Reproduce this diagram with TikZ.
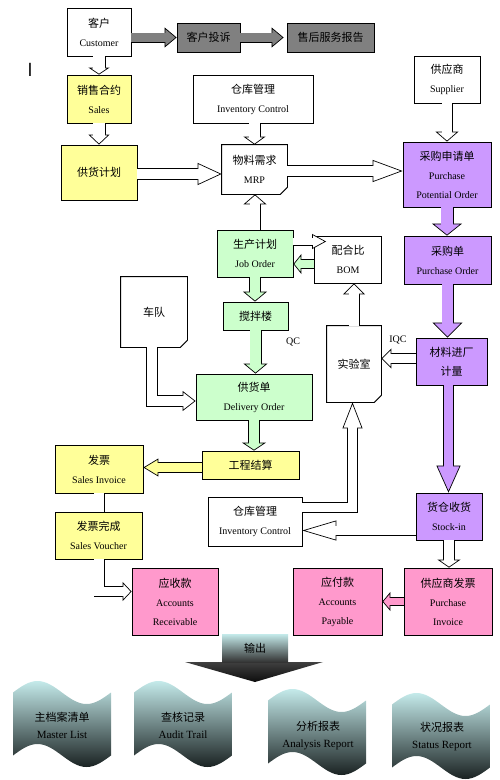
\documentclass[tikz,border=0pt]{standalone}
\usepackage{fontspec}
\setmainfont{Liberation Serif}
\newfontfamily\cjk{Noto Sans CJK SC}
\usetikzlibrary{arrows.meta}

\definecolor{boxyellow}{HTML}{FFFF99}
\definecolor{boxgreen}{HTML}{CCFFCC}
\definecolor{boxpurple}{HTML}{CC99FF}
\definecolor{boxpink}{HTML}{FF99CC}
\definecolor{boxgray}{HTML}{808080}
\definecolor{tapetop}{HTML}{C4EAEA}
\definecolor{tapemid}{HTML}{86A6A6}
\definecolor{tapebottom}{HTML}{1A2222}

\newcommand{\zhtext}[1]{{\cjk\fontsize{11}{19}\selectfont #1}}

% block arrow: [fill]{body width}{head width}{head length}{path}
\newcommand{\blockarrow}[5][white]{%
  \draw[line width=#2, -{Triangle[length=#4, width=#3, line width=0.7pt, fill=#1]}] #5;
  \draw[line width=#2-1.4pt, draw=#1, shorten >=#4-1pt] #5;
}
\newcommand{\blockbody}[3][white]{%
  \draw[line width=#2] #3;
  \draw[line width=#2-1.4pt, draw=#1] #3;
}
% document frame with folded corner
\newcommand{\docframe}[1]{%
  \draw[line width=0.8pt] (#1.north west) -- (#1.north east) -- ([yshift=7pt]#1.south east)
    -- ([xshift=-7pt]#1.south east) -- (#1.south west) -- cycle;
  \draw[line width=0.6pt, fill=black!12] ([yshift=7pt]#1.south east) -- ([xshift=-7pt]#1.south east)
    -- ([xshift=-5pt,yshift=2pt]#1.south east) -- cycle;
}
% wavy report shape round a coordinate
\newcommand{\tapeshape}[1]{%
  \shade[top color=tapetop, middle color=tapemid, bottom color=tapebottom, shift={(#1)}]
    (-49,-31.5) sin (-24.5,-43) cos (0,-31.5) sin (24.5,-20) cos (49,-31.5)
    -- (49,31.5) sin (24.5,43) cos (0,31.5) sin (-24.5,20) cos (-49,31.5) -- cycle;
}

\tikzset{
  box/.style={draw, line width=0.8pt, align=center, inner sep=0pt, font=\fontsize{10}{19}\selectfont},
  yellowbox/.style={box, fill=boxyellow},
  greenbox/.style={box, fill=boxgreen},
  purplebox/.style={box, fill=boxpurple},
  pinkbox/.style={box, fill=boxpink},
  graybox/.style={box, fill=boxgray},
  docbox/.style={box, draw=none, fill=white},
  tapetext/.style={align=center, inner sep=0pt, font=\fontsize{11}{17}\selectfont},
  tag/.style={inner sep=0pt, font=\fontsize{10}{12}\selectfont},
}

\begin{document}
\begin{tikzpicture}[x=1pt, y=-1pt]
\useasboundingbox (0,0) rectangle (500,780);

% customer row
\node[box, minimum width=64pt, minimum height=48pt] (customer) at (99,32) {\zhtext{客户}\\Customer};
\node[graybox, minimum width=63pt, minimum height=29pt] (complaint) at (208.5,37.5) {\zhtext{客户投诉}};
\node[graybox, minimum width=87pt, minimum height=29pt] (report) at (330.5,37.5) {\zhtext{售后服务报告}};
\node (cursor) at (30,70) {\fontsize{19}{19}\sffamily I};

% sales side
\node[yellowbox, minimum width=64pt, minimum height=48pt] (sales) at (99,99) {\zhtext{销售合约}\\Sales};
\node[yellowbox, minimum width=76pt, minimum height=55pt] (plan) at (99,172.5) {\zhtext{供货计划}};

% planning
\node[box, minimum width=120pt, minimum height=48pt] (inv1) at (253,99) {\zhtext{仓库管理}\\Inventory Control};
\node[docbox, minimum width=65pt, minimum height=49pt] (mrp) at (254.5,169.5) {\zhtext{物料需求}\\MRP};
\docframe{mrp}
\node[greenbox, minimum width=76pt, minimum height=47pt] (job) at (255,253.5) {\zhtext{生产计划}\\Job Order};
\node[box, minimum width=67pt, minimum height=47pt] (bom) at (348,259.5) {\zhtext{配合比}\\BOM};
\node[greenbox, minimum width=65pt, minimum height=28pt] (mixer) at (255.5,316) {\zhtext{搅拌楼}};
\node[docbox, minimum width=66pt, minimum height=70pt] (fleet) at (154,312) {\zhtext{车队}};
\docframe{fleet}
\node[greenbox, minimum width=116pt, minimum height=46pt] (delivery) at (254,397) {\zhtext{供货单}\\Delivery Order};
\node[docbox, minimum width=54pt, minimum height=76pt] (lab) at (354,364) {\zhtext{实验室}};
\docframe{lab}
\node[tag] (qc) at (293,342) {QC};
\node[tag] (iqc) at (398,340) {IQC};

% purchasing
\node[box, minimum width=66pt, minimum height=47pt] (supplier) at (447,79.5) {\zhtext{供应商}\\Supplier};
\node[purplebox, minimum width=88pt, minimum height=65pt] (ppo) at (447,174.5) {\zhtext{采购申请单}\\Purchase\\Potential Order};
\node[purplebox, minimum width=87pt, minimum height=48pt] (po) at (447.5,260) {\zhtext{采购单}\\Purchase Order};
\node[purplebox, minimum width=71pt, minimum height=47pt] (intake) at (451.5,361.5) {\zhtext{材料进厂}\\\zhtext{计量}};
\node[purplebox, minimum width=66pt, minimum height=47pt] (stockin) at (449,516.5) {\zhtext{货仓收货}\\Stock-in};

% billing
\node[yellowbox, minimum width=97pt, minimum height=28pt] (settle) at (250.5,465) {\zhtext{工程结算}};
\node[yellowbox, minimum width=88pt, minimum height=48pt] (invoice) at (99,469) {\zhtext{发票}\\Sales Invoice};
\node[yellowbox, minimum width=87pt, minimum height=47pt] (voucher) at (98.5,535.5) {\zhtext{发票完成}\\Sales Voucher};
\node[box, minimum width=94pt, minimum height=49pt] (inv2) at (255,521.5) {\zhtext{仓库管理}\\Inventory Control};
\node[pinkbox, minimum width=86pt, minimum height=67pt] (ar) at (175,601.5) {\zhtext{应收款}\\Accounts\\Receivable};
\node[pinkbox, minimum width=89pt, minimum height=67pt] (ap) at (337.5,601.5) {\zhtext{应付款}\\Accounts\\Payable};
\node[pinkbox, minimum width=88pt, minimum height=67pt] (pinvoice) at (448,601.5) {\zhtext{供应商发票}\\Purchase\\Invoice};

% output
\shade[top color=black!75, bottom color=black!95] (185,662) -- (323,662) -- (255,682) -- cycle;
\node[top color=tapetop, bottom color=black!80, minimum width=66pt, minimum height=28pt, inner sep=0pt] (output) at (255,648) {\zhtext{输出}};

% reports
\coordinate (mlc) at (62,724);
\coordinate (atc) at (183,724);
\coordinate (arc) at (317,732);
\coordinate (src) at (441,736);
\tapeshape{mlc}
\tapeshape{atc}
\tapeshape{arc}
\tapeshape{src}
\node[tapetext] (mlist) at (62,725) {\zhtext{主档案清单}\\Master List};
\node[tapetext] (audit) at (183,725) {\zhtext{查核记录}\\Audit Trail};
\node[tapetext] (analysis) at (318,736) {\zhtext{分析报表}\\Analysis Report};
\node[tapetext] (status) at (442,736.5) {\zhtext{状况报表}\\Status Report};

% connectors
\blockarrow[boxgray]{10pt}{20pt}{12pt}{(customer.east |- complaint.west) -- (complaint.west)}
\blockarrow[boxgray]{10pt}{20pt}{12pt}{(complaint.east) -- ([xshift=-3pt]report.west)}
\blockarrow{13pt}{21pt}{7pt}{(customer.south) -- (sales.north)}
\blockarrow{13pt}{21pt}{10pt}{(sales.south) -- (plan.north)}
\blockarrow{12pt}{22pt}{24pt}{([yshift=-1.5pt]plan.east) -- ([yshift=-1.5pt]plan.east -| mrp.west)}
\blockarrow{12pt}{22pt}{8pt}{(inv1.south -| mrp.north) -- (mrp.north)}
\blockarrow{12pt}{22pt}{30pt}{([yshift=-1.5pt]mrp.east) -- ([yshift=-1.5pt]mrp.east -| ppo.west)}
\blockarrow{11pt}{23pt}{10pt}{(supplier.south) -- (supplier.south |- ppo.north)}
\blockarrow[boxpurple]{13pt}{30pt}{12pt}{(ppo.south) -- (ppo.south |- po.north)}
\blockarrow[boxpurple]{12pt}{30pt}{15pt}{(po.south) -- (po.south |- intake.north)}
\blockarrow[boxpurple]{11pt}{24pt}{27pt}{([xshift=-3pt]intake.south) -- ([xshift=-3pt]intake.south |- stockin.north)}
\blockarrow{11pt}{23pt}{10pt}{(job.north) -- (job.north |- mrp.south)}
\blockarrow{8pt}{15pt}{14pt}{([yshift=12pt]job.east) -- ([yshift=12pt,xshift=12pt]job.east -| bom.west)}
\blockarrow[boxgreen]{10pt}{20pt}{8pt}{([yshift=-4.5pt]bom.west) -- ([yshift=-4.5pt]bom.west -| job.east)}
\blockarrow[boxgreen]{12pt}{24pt}{10pt}{(job.south) -- (job.south |- mixer.north)}
\blockarrow[boxgreen]{12pt}{24pt}{10pt}{(mixer.south) -- (mixer.south |- delivery.north)}
\blockarrow{12pt}{20pt}{13pt}{([xshift=-2pt]fleet.south) |- ([yshift=-4pt]delivery.west)}
\blockarrow{11pt}{22pt}{11pt}{(lab.north) -- (lab.north |- bom.south)}
\blockarrow{11pt}{20pt}{10pt}{([yshift=3pt]intake.west) -- ([yshift=3pt]intake.west -| lab.east)}
\blockarrow[boxgreen]{12pt}{24pt}{8pt}{(delivery.south) -- (delivery.south |- settle.north)}
\blockarrow[boxyellow]{11pt}{18pt}{15pt}{([yshift=-2.5pt]settle.west) -- ([yshift=-2.5pt]settle.west -| invoice.east)}
\blockbody{11pt}{(invoice.south) -- (invoice.south |- voucher.north)}
\blockarrow{11pt}{19pt}{9pt}{([xshift=0.5pt]voucher.south) |- ([yshift=10pt]ar.west)}
\blockarrow{11pt}{20pt}{26pt}{([yshift=14pt]inv2.east) -| ([xshift=-1.5pt]lab.south)}
\blockarrow{10pt}{20pt}{34pt}{([yshift=-14pt]stockin.west) -- ([yshift=-14pt]stockin.west -| inv2.east)}
\blockarrow{12pt}{23pt}{8pt}{(stockin.south) -- (stockin.south |- pinvoice.north)}
\blockarrow[boxpink]{9pt}{19pt}{8pt}{(pinvoice.west) -- (ap.east)}
\end{tikzpicture}
\end{document}
